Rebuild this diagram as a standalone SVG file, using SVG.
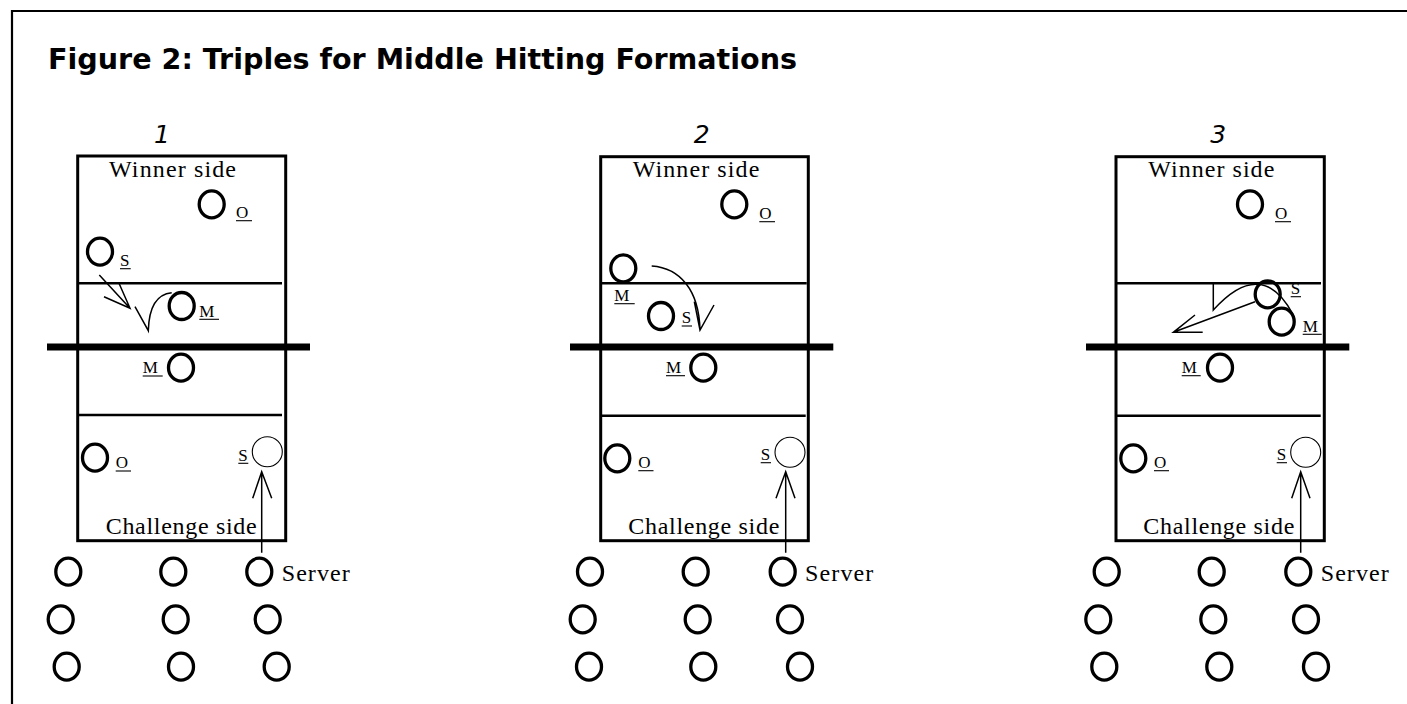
<svg xmlns="http://www.w3.org/2000/svg" width="1407" height="704" viewBox="0 0 1407 704">
<style>
.frame{fill:none;stroke:#000;stroke-width:2.2}
.court{fill:none;stroke:#000;stroke-width:3}
.line{stroke:#000;stroke-width:2.5}
.net{stroke:#000;stroke-width:7}
.p{fill:none;stroke:#000;stroke-width:3.3}
.pt{fill:none;stroke:#000;stroke-width:1.1}
.lbl{font-family:"Liberation Serif",serif;font-size:17px;fill:#000}
.ul{stroke:#000;stroke-width:1.1}
.side{font-family:"Liberation Serif",serif;font-size:24px;fill:#000}
.num{font-family:"DejaVu Sans",sans-serif;font-style:italic;font-size:25px;fill:#000;text-anchor:middle}
.title{font-family:"DejaVu Sans",sans-serif;font-weight:bold;font-size:29px;fill:#000}
.arr{fill:none;stroke:#000;stroke-width:1.5}
</style>
<defs>
<ellipse id="pl" cx="0" cy="0" rx="12.5" ry="13.5" class="p"/>
<circle id="pthin" cx="0" cy="0" r="15" class="pt"/>
</defs>
<path class="frame" d="M12,704 V11 H1407"/>
<text class="title" x="48" y="69" textLength="749" lengthAdjust="spacingAndGlyphs">Figure 2: Triples for Middle Hitting Formations</text>

<g id="court-1">
<text class="num" x="162" y="143">1</text>
<rect class="court" x="77.7" y="156" width="208" height="384.7"/>
<line class="line" x1="77.7" y1="283.3" x2="282" y2="283.3"/>
<line class="line" x1="77.7" y1="415" x2="282" y2="415"/>
<line class="net" x1="47" y1="347" x2="310" y2="347"/>
<text class="side" x="109" y="177" textLength="127" lengthAdjust="spacing">Winner side</text>
<text class="side" x="105.7" y="534.3" textLength="151" lengthAdjust="spacing">Challenge side</text>
<g id="c1-o-top"><use href="#pl" x="211.7" y="204.3"/><text class="lbl" x="236" y="218">O</text><line class="ul" x1="236" y1="220.7" x2="252" y2="220.7"/></g>
<g id="c1-s-top"><use href="#pl" x="100" y="251.7"/><text class="lbl" x="120" y="266">S</text><line class="ul" x1="120" y1="268.7" x2="130.7" y2="268.7"/></g>
<g id="c1-m-top"><use href="#pl" x="181.7" y="306"/><text class="lbl" x="199.3" y="316.7">M</text><line class="ul" x1="199.3" y1="319.3" x2="219" y2="319.3"/></g>
<g id="c1-m-bot"><use href="#pl" x="181" y="367.7"/><text class="lbl" x="142.7" y="373.3">M</text><line class="ul" x1="142.7" y1="376" x2="162.7" y2="376"/></g>
<g id="c1-o-bot"><use href="#pl" x="95" y="457.7"/><text class="lbl" x="115.7" y="468.3">O</text><line class="ul" x1="115.7" y1="471" x2="131" y2="471"/></g>
<g id="c1-s-bot"><use href="#pthin" x="267.3" y="451.7"/><text class="lbl" x="238.3" y="460.7">S</text><line class="ul" x1="238.3" y1="463.3" x2="248.3" y2="463.3"/></g>
<g id="c1-queue">
<use href="#pl" x="68.3" y="571.7"/><use href="#pl" x="173.3" y="571.7"/>
<g id="c1-server"><use href="#pl" x="259.3" y="571.7"/><text class="side" x="281.7" y="580.7" textLength="68" lengthAdjust="spacing">Server</text></g>
<use href="#pl" x="60.7" y="619.3"/><use href="#pl" x="175.7" y="619.3"/><use href="#pl" x="267.7" y="619.3"/>
<use href="#pl" x="66.7" y="666.7"/><use href="#pl" x="181" y="666.7"/><use href="#pl" x="276.7" y="666.7"/>
</g>
</g>

<g id="court-2">
<text class="num" x="701.7" y="143">2</text>
<rect class="court" x="600.7" y="156.7" width="207.6" height="384"/>
<line class="line" x1="600.7" y1="283.3" x2="806.7" y2="283.3"/>
<line class="line" x1="600.7" y1="415.7" x2="805.7" y2="415.7"/>
<line class="net" x1="570" y1="347" x2="833.3" y2="347"/>
<text class="side" x="632.7" y="177" textLength="126.6" lengthAdjust="spacing">Winner side</text>
<text class="side" x="628.3" y="534.3" textLength="151" lengthAdjust="spacing">Challenge side</text>
<g id="c2-o-top"><use href="#pl" x="734.3" y="204.3"/><text class="lbl" x="759.3" y="219">O</text><line class="ul" x1="759.3" y1="221.7" x2="775" y2="221.7"/></g>
<g id="c2-m-top"><use href="#pl" x="623.3" y="268.3"/><text class="lbl" x="614.3" y="301">M</text><line class="ul" x1="614.3" y1="303.7" x2="634.7" y2="303.7"/></g>
<g id="c2-s-top"><use href="#pl" x="661" y="316"/><text class="lbl" x="681.7" y="323.3">S</text><line class="ul" x1="681.7" y1="326" x2="692" y2="326"/></g>
<g id="c2-m-bot"><use href="#pl" x="703.3" y="367.7"/><text class="lbl" x="666" y="373">M</text><line class="ul" x1="666" y1="375.7" x2="685" y2="375.7"/></g>
<g id="c2-o-bot"><use href="#pl" x="617.3" y="458.3"/><text class="lbl" x="638.3" y="468">O</text><line class="ul" x1="638.3" y1="470.7" x2="653.5" y2="470.7"/></g>
<g id="c2-s-bot"><use href="#pthin" x="790" y="452.3"/><text class="lbl" x="760.7" y="460">S</text><line class="ul" x1="760.7" y1="462.7" x2="771" y2="462.7"/></g>
<g id="c2-queue">
<use href="#pl" x="590" y="571.7"/><use href="#pl" x="695.7" y="571.7"/>
<g id="c2-server"><use href="#pl" x="782.7" y="571.7"/><text class="side" x="805" y="580.7" textLength="68.3" lengthAdjust="spacing">Server</text></g>
<use href="#pl" x="582.7" y="619.3"/><use href="#pl" x="697.7" y="619.3"/><use href="#pl" x="790" y="619.3"/>
<use href="#pl" x="589" y="666.7"/><use href="#pl" x="703.3" y="666.7"/><use href="#pl" x="800" y="666.7"/>
</g>
</g>

<g id="court-3">
<text class="num" x="1218.3" y="143">3</text>
<rect class="court" x="1116" y="156.7" width="208.3" height="384"/>
<line class="line" x1="1116" y1="283.3" x2="1321" y2="283.3"/>
<line class="line" x1="1116" y1="415.7" x2="1320.7" y2="415.7"/>
<line class="net" x1="1086" y1="347" x2="1349.3" y2="347"/>
<text class="side" x="1148.3" y="177" textLength="126" lengthAdjust="spacing">Winner side</text>
<text class="side" x="1143.3" y="534.3" textLength="151" lengthAdjust="spacing">Challenge side</text>
<g id="c3-o-top"><use href="#pl" x="1250" y="204.3"/><text class="lbl" x="1275" y="219">O</text><line class="ul" x1="1275" y1="221.7" x2="1291" y2="221.7"/></g>
<g id="c3-s-top"><use href="#pl" x="1267.7" y="294.3"/><text class="lbl" x="1290.7" y="294">S</text><line class="ul" x1="1290.7" y1="296.7" x2="1301" y2="296.7"/></g>
<g id="c3-m-top"><use href="#pl" x="1281.7" y="321.7"/><text class="lbl" x="1302.7" y="331.7">M</text><line class="ul" x1="1302.7" y1="334.3" x2="1321.7" y2="334.3"/></g>
<g id="c3-m-bot"><use href="#pl" x="1220" y="367.7"/><text class="lbl" x="1181.7" y="373">M</text><line class="ul" x1="1181.7" y1="375.7" x2="1200.7" y2="375.7"/></g>
<g id="c3-o-bot"><use href="#pl" x="1133.3" y="458.3"/><text class="lbl" x="1154" y="468">O</text><line class="ul" x1="1154" y1="470.7" x2="1169" y2="470.7"/></g>
<g id="c3-s-bot"><use href="#pthin" x="1305.7" y="452.3"/><text class="lbl" x="1276.7" y="460">S</text><line class="ul" x1="1276.7" y1="462.7" x2="1287" y2="462.7"/></g>
<g id="c3-queue">
<use href="#pl" x="1106.7" y="571.7"/><use href="#pl" x="1211.7" y="571.7"/>
<g id="c3-server"><use href="#pl" x="1298.3" y="571.7"/><text class="side" x="1320.7" y="580.7" textLength="68" lengthAdjust="spacing">Server</text></g>
<use href="#pl" x="1098.3" y="619.3"/><use href="#pl" x="1213.3" y="619.3"/><use href="#pl" x="1306" y="619.3"/>
<use href="#pl" x="1104.3" y="666.7"/><use href="#pl" x="1219.3" y="666.7"/><use href="#pl" x="1316" y="666.7"/>
</g>
</g>

<g id="connectors">
<path class="arr" d="M99.3,275 L130,308.3 M104,296.7 L130,308.3 L119,283.3"/>
<path class="arr" d="M171.7,292.7 C158,294 149,306 148.3,330.7 L135,306.7"/>
<path class="arr" d="M261.7,552.7 V471.7 M252.7,498.3 L261.7,471.7 L271.7,498.3"/>
<path class="arr" d="M651.7,266 C680,268 699,290 700,330 M694.3,301.7 L700,330 L714,305"/>
<path class="arr" d="M785.7,552.7 V471.7 M776,498.3 L785.7,471.7 L795,498.3"/>
<path class="arr" d="M1255,301.7 L1173.3,332.3 M1195,315 L1173.3,332.3 L1202.7,332.3"/>
<path class="arr" d="M1293.3,315 Q1262,256 1213.3,310 V282.3"/>
<path class="arr" d="M1300.7,552.7 V471.7 M1291.7,498.3 L1300.7,471.7 L1310,498.3"/>
</g>
</svg>
